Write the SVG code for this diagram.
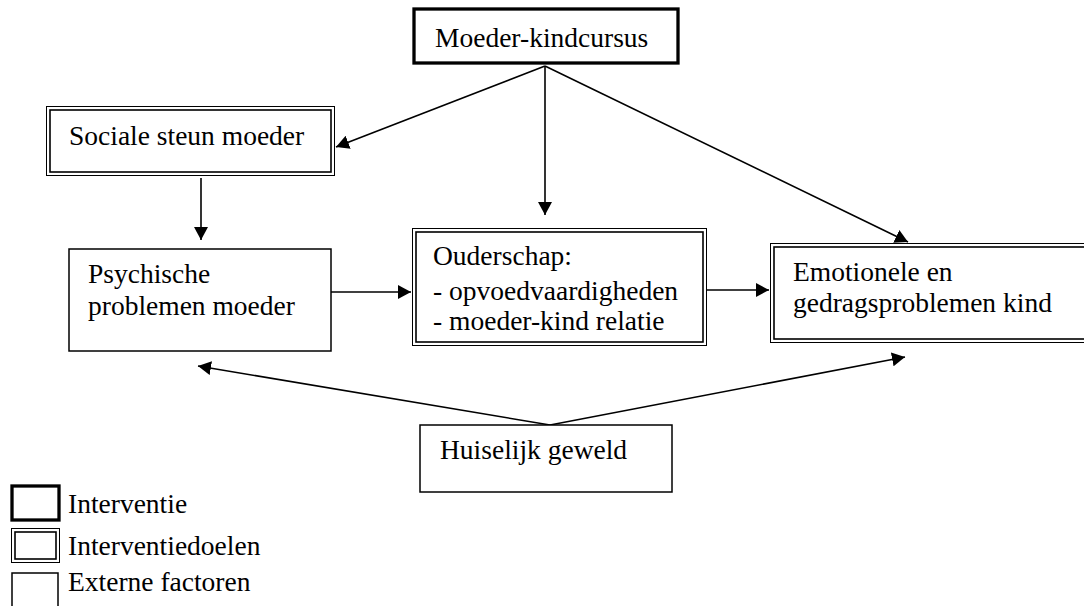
<svg xmlns="http://www.w3.org/2000/svg" width="1084" height="606" viewBox="0 0 1084 606">
<style>
text{font-family:'Liberation Serif','Times New Roman','DejaVu Serif',serif;font-size:27.5px;fill:#000}
.thick{fill:#fff;stroke:#000;stroke-width:3.3}
.single{fill:#fff;stroke:#000;stroke-width:1.5}
.dout{fill:#fff;stroke:#000;stroke-width:1}
.din{fill:none;stroke:#000;stroke-width:1.6}
.conn{stroke:#000;stroke-width:1.6;fill:none;marker-end:url(#ah)}
</style>
<defs>
<marker id="ah" markerUnits="userSpaceOnUse" markerWidth="14" markerHeight="14" refX="13" refY="7" orient="auto">
<path d="M0,0 L13,7 L0,14 Z" fill="#000"/>
</marker>
</defs>
<g id="connectors">
<line class="conn" x1="545" y1="66" x2="336" y2="147"/>
<line class="conn" x1="545" y1="66" x2="545" y2="215"/>
<line class="conn" x1="545" y1="66" x2="908" y2="242"/>
<line class="conn" x1="201" y1="178" x2="201" y2="240"/>
<line class="conn" x1="331" y1="292" x2="411" y2="292"/>
<line class="conn" x1="707" y1="290" x2="769" y2="290"/>
<line class="conn" x1="550" y1="425" x2="198" y2="366"/>
<line class="conn" x1="550" y1="425" x2="905" y2="357"/>
</g>
<g font-family="Liberation Serif, Times New Roman, DejaVu Serif, serif">
<g id="moeder-kindcursus">
<rect class="thick" x="414" y="9" width="264" height="54"/>
<text x="435" y="47">Moeder-kindcursus</text>
</g>
<g id="sociale-steun">
<rect class="dout" x="46.5" y="106.5" width="288" height="69"/>
<rect class="din" x="50" y="110" width="281" height="62"/>
<text x="69" y="145">Sociale steun moeder</text>
</g>
<g id="psychische">
<rect class="single" x="69" y="249" width="262" height="102"/>
<text x="88" y="283">Psychische</text>
<text x="88" y="315">problemen moeder</text>
</g>
<g id="ouderschap">
<rect class="dout" x="412.5" y="228.5" width="294" height="117"/>
<rect class="din" x="416" y="232" width="287" height="110"/>
<text x="433" y="265">Ouderschap:</text>
<text x="433" y="300">- opvoedvaardigheden</text>
<text x="433" y="330">- moeder-kind relatie</text>
</g>
<g id="emotionele">
<rect class="dout" x="770.5" y="243.5" width="330" height="99"/>
<rect class="din" x="774" y="247" width="330" height="92"/>
<text x="793" y="281">Emotionele en</text>
<text x="793" y="312">gedragsproblemen kind</text>
</g>
<g id="huiselijk">
<rect class="single" x="420" y="425" width="252" height="67"/>
<text x="440" y="459">Huiselijk geweld</text>
</g>
<g id="legend">
<rect class="thick" x="12" y="486" width="47" height="34"/>
<text x="68" y="513">Interventie</text>
<rect class="dout" x="11.5" y="528.5" width="48" height="34"/>
<rect class="din" x="15" y="532" width="41" height="27"/>
<text x="68" y="555">Interventiedoelen</text>
<rect class="single" x="12" y="573" width="46" height="40"/>
<text x="68" y="591">Externe factoren</text>
</g>
</g>
</svg>
